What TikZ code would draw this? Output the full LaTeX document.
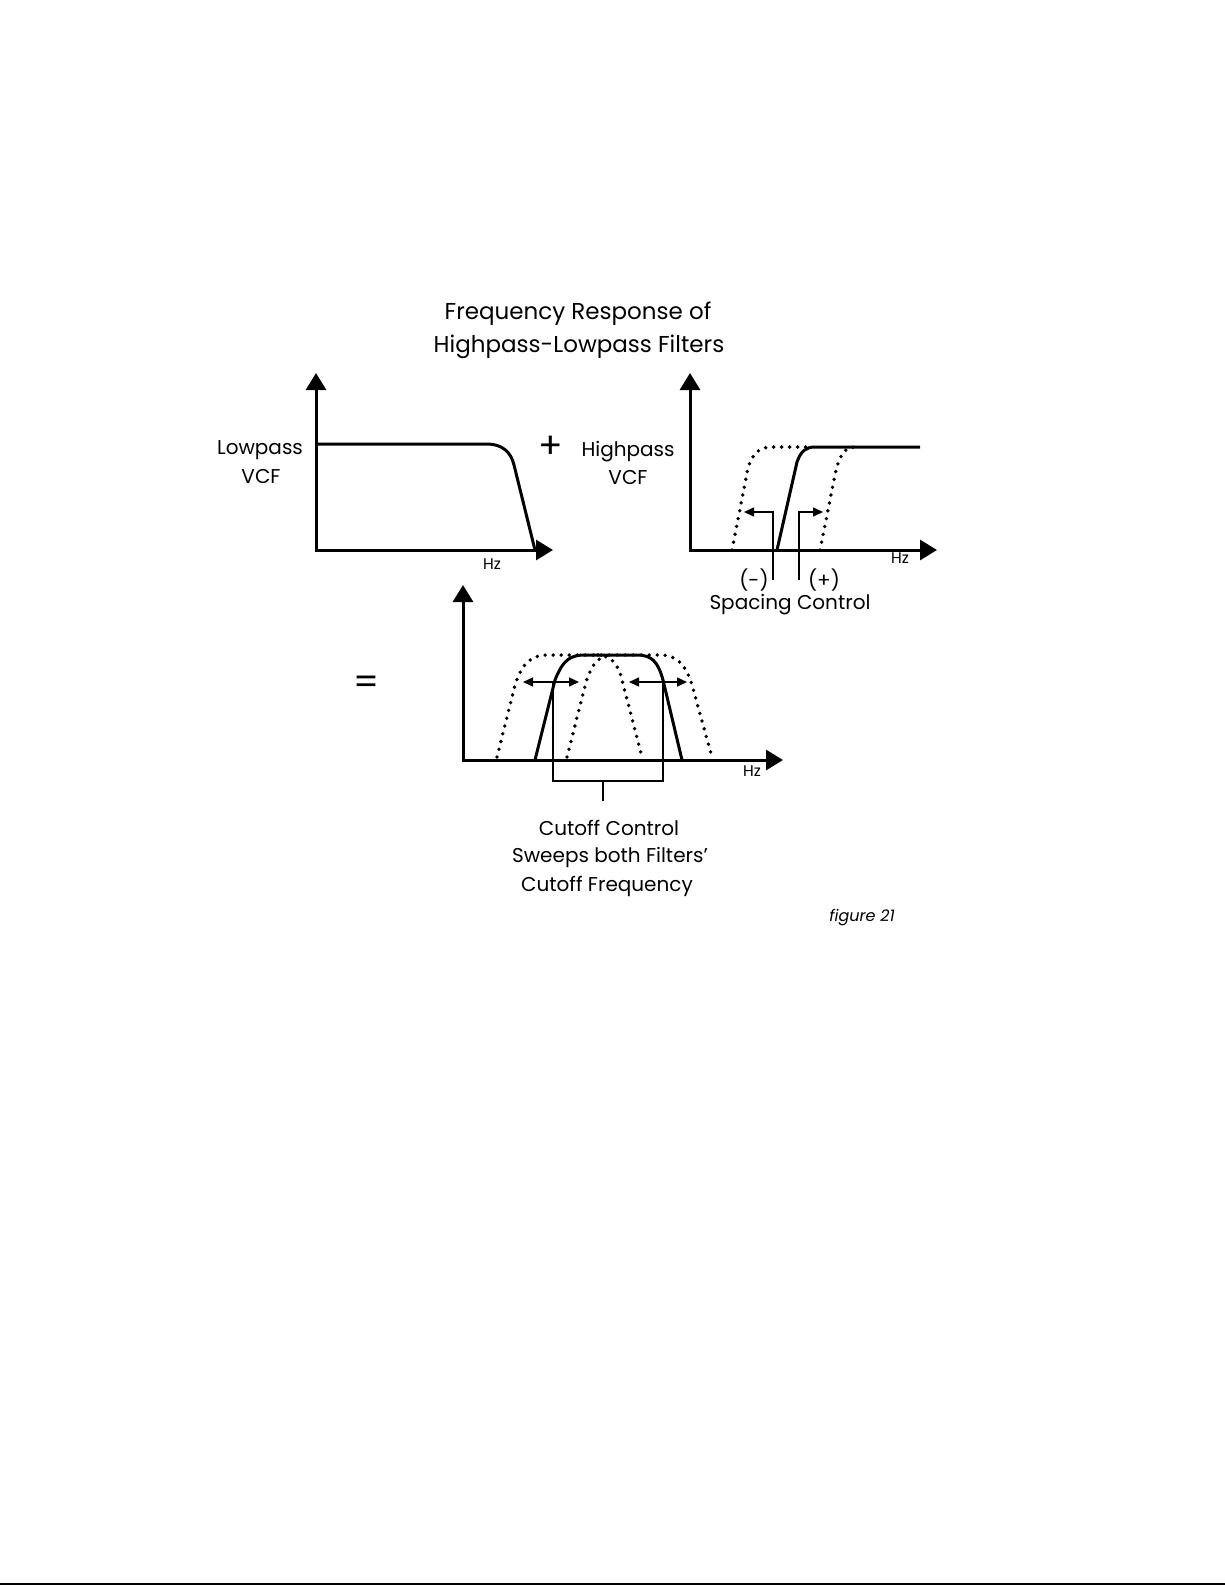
\documentclass[tikz,border=0pt]{standalone}
\usepackage{fontspec}
\setmainfont{Poppins}
\usetikzlibrary{arrows.meta}
\begin{document}
\begin{tikzpicture}[x=1pt,y=-1pt,
  axis/.style={line width=3pt,line join=miter,{Triangle[width=20pt,length=17pt]}-{Triangle[width=20pt,length=17pt]}},
  curve/.style={line width=3pt,line join=round},
  dotcurve/.style={line width=3.8pt,line cap=round,dash pattern=on 0pt off 8pt},
  thin/.style={line width=1.5pt},
  thinarrow/.style={line width=1.5pt,-{Triangle[width=9pt,length=10pt]}},
  dblarrow/.style={line width=1.5pt,{Triangle[width=9pt,length=10pt]}-{Triangle[width=9pt,length=10pt]}},
  lbl/.style={inner sep=0pt,font=\fontsize{20}{24}\selectfont},
  sym/.style={inner sep=0pt,font=\fontsize{36}{40}\selectfont},
  ttl/.style={inner sep=0pt,font=\fontsize{23}{27}\selectfont},
  hz/.style={inner sep=0pt,font=\fontsize{15.5}{18}\selectfont}]
\useasboundingbox (0,0) rectangle (1225,1585);
\fill[white] (0,0) rectangle (1225,1585);
\draw[line width=2pt] (0,1583.5) -- (1225,1583.5);

% title
\node[ttl] (t1) at (578,314) {Frequency Response of};
\node[ttl] (t2) at (579,347) {Highpass-Lowpass Filters};

% lowpass plot
\draw[axis] (316,373) -- (316,550) -- (553,550);
\draw[curve] (316,444) -- (487,444) .. controls (502,444) and (511,452) .. (514,465) -- (535,550);
\node[lbl] (lp1) at (260,450) {Lowpass};
\node[lbl] (lp2) at (261,476) {VCF};
\node[hz] (hz1) at (492,564) {Hz};
\node[sym] (plus) at (551,447) {+};

% highpass plot
\draw[axis] (690,373) -- (690,550) -- (937,550);
\draw[curve] (777,550) -- (797,462) .. controls (801,451) and (806,447) .. (815,447) -- (920,447);
\draw[dotcurve] (732,550) -- (748,468) .. controls (753,452) and (760,447) .. (772,447) -- (810,447);
\draw[dotcurve] (820,550) -- (836,470) .. controls (840,455) and (845,447) .. (855,447);
\draw[thinarrow] (773,580) -- (773,512) -- (744,512);
\draw[thinarrow] (799,580) -- (799,512) -- (823,512);
\node[lbl] (hp1) at (628,452) {Highpass};
\node[lbl] (hp2) at (628,477) {VCF};
\node[hz] (hz2) at (900,558) {Hz};
\node[lbl] (minus) at (754,580) {(-)};
\node[lbl] (pl2) at (824,580) {(+)};
\node[lbl] (sc) at (790,605) {Spacing Control};

% result plot
\node[sym] (eq) at (367,685) {=};
\draw[axis] (463,585) -- (463,760) -- (783,760);
\draw[curve] (535,760) -- (555,680) .. controls (563,660) and (570,655) .. (585,655) -- (637,655) .. controls (652,655) and (658,662) .. (663,680) -- (682,760);
\draw[dotcurve] (497,757) -- (515,685) .. controls (522,664) and (530,655) .. (548,655) -- (660,655) .. controls (677,655) and (686,665) .. (692,685) -- (712,757);
\draw[dotcurve] (567,757) -- (586,682) .. controls (592,664) and (598,656) .. (612,655);
\draw[dotcurve] (598,655) .. controls (612,656) and (618,664) .. (622,680) -- (642,757);
\draw[dblarrow] (523,682) -- (579,682);
\draw[dblarrow] (629,682) -- (687,682);
\draw[thin] (553,682) -- (553,781) -- (663,781) -- (663,682);
\draw[thin] (603,781) -- (603,801);
\node[hz] (hz3) at (752,771) {Hz};
\node[lbl] (c1) at (609,828) {Cutoff Control};
\node[lbl] (c2) at (610,857) {Sweeps both Filters’};
\node[lbl] (c3) at (607,886) {Cutoff Frequency};
\node[inner sep=0pt,font=\fontsize{16}{18}\selectfont\itshape] (fig) at (862,918) {figure 21};
\end{tikzpicture}
\end{document}
